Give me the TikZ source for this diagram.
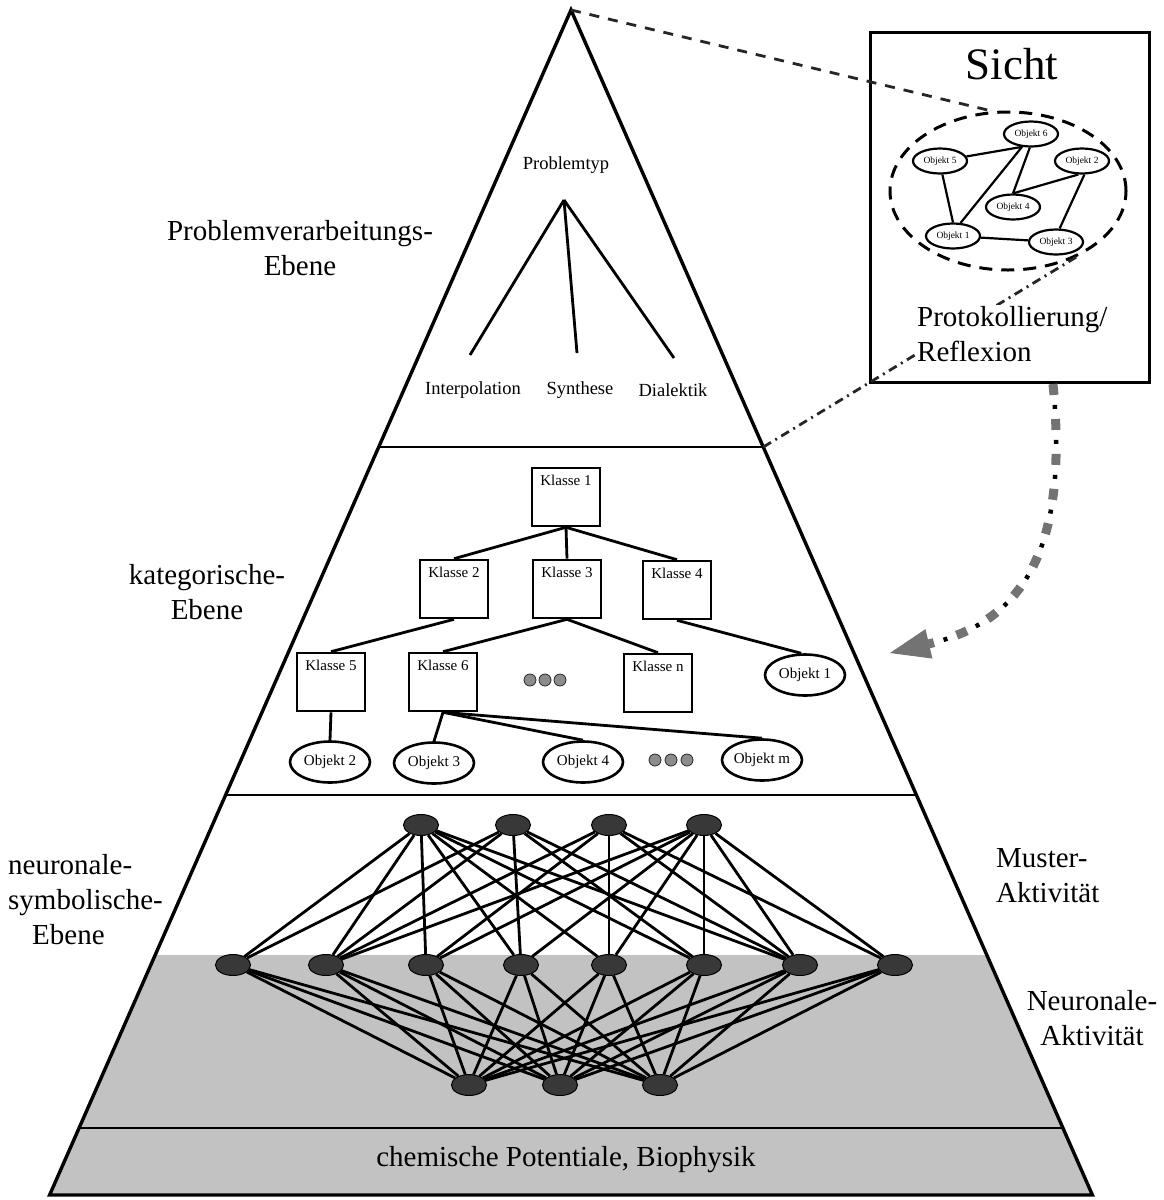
\documentclass[tikz,border=0pt]{standalone}
\usepackage{fontspec}
\setmainfont{Liberation Serif}
\usetikzlibrary{shapes.geometric,arrows.meta}

% font sizes used in the figure (1pt = 1 unit)
\newcommand\lblfont{\fontsize{29}{35}\selectfont}
\newcommand\sichtfont{\fontsize{45}{50}\selectfont}
\newcommand\treefont{\fontsize{18.5}{22}\selectfont}
\newcommand\klfont{\fontsize{15}{18}\selectfont}
\newcommand\tinyobjfont{\fontsize{9.5}{11}\selectfont}

\begin{document}
\begin{tikzpicture}[x=1pt,y=-1pt,
  pyr/.style={line width=3.4pt, line join=miter},
  divider/.style={line width=2.8pt},
  biglabel/.style={font=\lblfont, inner sep=0pt},
  treeline/.style={line width=2.8pt},
  klasse/.style={draw, line width=2.6pt, minimum width=68pt, minimum height=58pt,
    font=\klfont, text height=12pt, text depth=36pt, inner sep=5pt, fill=white},
  objekt/.style={draw, ellipse, line width=2.6pt, minimum width=80pt, minimum height=41pt,
    inner sep=0pt, font=\klfont, fill=white},
  edge/.style={line width=2.8pt},
  dotc/.style={circle, draw=black!85, fill=black!45, minimum size=12pt, inner sep=0pt, line width=0.8pt},
  neuron/.style={ellipse, draw=black, fill=black!78, minimum width=35pt, minimum height=21pt,
    inner sep=0pt, line width=1pt},
  nedge/.style={line width=2.8pt},
  smallobj/.style={draw, ellipse, line width=2.2pt, minimum width=54pt, minimum height=25pt,
    inner sep=0pt, font=\tinyobjfont, fill=white},
  sedge/.style={line width=2.2pt},
  dashline/.style={line width=2.8pt, black!85, dash pattern=on 10pt off 9pt},
  dashdotline/.style={line width=2.8pt, black!85, dash pattern=on 9pt off 5pt on 2pt off 5pt},
]
\useasboundingbox (0,0) rectangle (1163,1200);

% ---------- pyramid ----------
\coordinate (apex) at (571,10);
\coordinate (baseL) at (49.6,1195);
\coordinate (baseR) at (1092.4,1195);
\coordinate (d1l) at (378.7,447);
\coordinate (d1r) at (763.3,447);
\coordinate (d2l) at (225.6,795);
\coordinate (d2r) at (916.4,795);
\coordinate (d3l) at (79.1,1128);
\coordinate (d3r) at (1062.9,1128);

% shaded lower region
\fill[black!24] (155.2,955) -- (986.8,955) -- (baseR) -- (baseL) -- cycle;

\draw[pyr] (baseL) -- (apex) -- (baseR) -- cycle;
\draw[divider] (d1l) -- (d1r);
\draw[divider] (d2l) -- (d2r);
\draw[divider] (d3l) -- (d3r);

% ---------- side labels ----------
\node[biglabel, align=center] (lblP) at (300,248) {Problemverarbeitungs-\\Ebene};
\node[biglabel, align=center] (lblK) at (207,592) {kategorische-\\Ebene};
\node[biglabel, align=left, anchor=west] (lblN) at (8,900) {neuronale-\\symbolische-\\\hspace*{24pt}Ebene};
\node[biglabel, align=left, anchor=west] (lblM) at (996,876) {Muster-\\Aktivit\"at};
\node[biglabel, align=center] (lblNA) at (1092,1018) {Neuronale-\\Aktivit\"at};
\node[biglabel] (lblChem) at (566,1160) {chemische Potentiale, Biophysik};

% ---------- problem level ----------
\node[font=\treefont, inner sep=0pt] (lblPT) at (566,165) {Problemtyp};
\coordinate (pt) at (564,200);
\coordinate (ei) at (470,355);
\coordinate (es) at (577,353);
\coordinate (ed) at (674,358);
\draw[treeline] (pt) -- (ei);
\draw[treeline] (pt) -- (es);
\draw[treeline] (pt) -- (ed);
\node[font=\treefont, inner sep=0pt] (lblI) at (473,390) {Interpolation};
\node[font=\treefont, inner sep=0pt] (lblS) at (580,390) {Synthese};
\node[font=\treefont, inner sep=0pt] (lblD) at (673,390) {Dialektik};

% ---------- categorical level ----------
\node[klasse] (K1) at (566,497) {Klasse 1};
\node[klasse] (K2) at (454,589) {Klasse 2};
\node[klasse] (K3) at (567,589) {Klasse 3};
\node[klasse] (K4) at (677,590) {Klasse 4};
\node[klasse] (K5) at (331,682) {Klasse 5};
\node[klasse] (K6) at (443,682) {Klasse 6};
\node[klasse] (Kn) at (658,683) {Klasse n};
\node[objekt] (O1) at (805,675) {Objekt 1};
\node[objekt] (O2) at (330,762) {Objekt 2};
\node[objekt] (O3) at (434,763) {Objekt 3};
\node[objekt] (O4) at (583,762) {Objekt 4};
\node[objekt] (Om) at (762,760) {Objekt m};
\node[dotc] (da1) at (530,680) {};
\node[dotc] (da2) at (545,680) {};
\node[dotc] (da3) at (560,680) {};
\node[dotc] (db1) at (655,760) {};
\node[dotc] (db2) at (671,760) {};
\node[dotc] (db3) at (687,760) {};

\draw[edge] (K1.south) -- (K2.north);
\draw[edge] (K1.south) -- (K3.north);
\draw[edge] (K1.south) -- (K4.north);
\draw[edge] (K2.south) -- (K5.north);
\draw[edge] (K3.south) -- (K6.north);
\draw[edge] (K3.south) -- (Kn.north);
\draw[edge] (K4.south) -- (O1.100);
\draw[edge] (K5.south) -- (O2.north);
\draw[edge] (K6.south) -- (O3.north);
\draw[edge] (K6.south) -- (O4.north);
\draw[edge] (K6.south) -- (Om.north);

% ---------- neural level ----------
\foreach \n/\x in {t1/421, t2/513, t3/609, t4/704}
  \node[neuron] (\n) at (\x,825) {};
\foreach \n/\x in {m1/233, m2/326, m3/426, m4/521, m5/609, m6/704, m7/800, m8/895}
  \node[neuron] (\n) at (\x,965) {};
\foreach \n/\x in {b1/469, b2/560, b3/660}
  \node[neuron] (\n) at (\x,1085) {};

\foreach \a/\b in {t1/m1, t1/m2, t1/m3, t1/m4, t1/m5, t1/m6, t1/m7,
                   t2/m1, t2/m2, t2/m4, t2/m6, t2/m7,
                   t3/m2, t3/m3, t3/m5, t3/m7, t3/m8,
                   t4/m2, t4/m3, t4/m4, t4/m5, t4/m6, t4/m7, t4/m8}
  \draw[nedge] (\a) -- (\b);
\foreach \a in {m1, m2, m3, m4, m5, m6, m7, m8}
  \foreach \b in {b1, b2, b3}
    \draw[nedge] (\a) -- (\b);

% ---------- view box ----------
\node[draw, line width=3pt, minimum width=279pt, minimum height=350pt, inner sep=0pt] (sicht) at (1009.5,207) {};
\node[font=\sichtfont, inner sep=0pt] (lblSicht) at (1012,64) {Sicht};

\node[draw, ellipse, line width=3pt, dash pattern=on 13pt off 9pt, minimum width=236pt, minimum height=158pt, inner sep=0pt] (view) at (1008,191) {};

\node[smallobj] (s6) at (1031,134) {Objekt 6};
\node[smallobj] (s5) at (940,161) {Objekt 5};
\node[smallobj] (s2) at (1082,161) {Objekt 2};
\node[smallobj] (s4) at (1013,207) {Objekt 4};
\node[smallobj] (s1) at (953,236) {Objekt 1};
\node[smallobj] (s3) at (1056,242) {Objekt 3};

\draw[sedge] (s5) -- (s6.235);
\draw[sedge] (s1.60) -- (s6.235);
\draw[sedge] (s6.265) -- (s4.north);
\draw[sedge] (s4.north) -- (s2.255);
\draw[sedge] (s2.280) -- (s3.75);
\draw[sedge] (s5.280) -- (s1.north);
\draw[sedge] (s1) -- (s3);

% ---------- connectors to the view ----------
\draw[dashline] (apex) -- (view.101);
\draw[dashdotline] (d1r) -- (view.316);

% caption inside the view box sits on a white ground over the dash-dot line
\node[font=\lblfont, align=left, anchor=west, inner sep=1pt, fill=white] (lblProt) at (916,334) {Protokollierung/\\Reflexion};

\coordinate (arrowstart) at (1053,384);
\coordinate (arrowtip) at (890,653);
\draw[line width=9pt, black!55, dash pattern=on 11pt off 24pt,
      -{Triangle[length=40pt, width=30pt, line width=1pt, fill=black!55]}]
  (arrowstart) .. controls (1068,540) and (1030,620) .. (arrowtip);
\draw[line width=4.5pt, black, dash pattern=on 4pt off 31pt, dash phase=14pt, shorten >=40pt]
  (arrowstart) .. controls (1068,540) and (1030,620) .. (arrowtip);

\end{tikzpicture}
\end{document}
